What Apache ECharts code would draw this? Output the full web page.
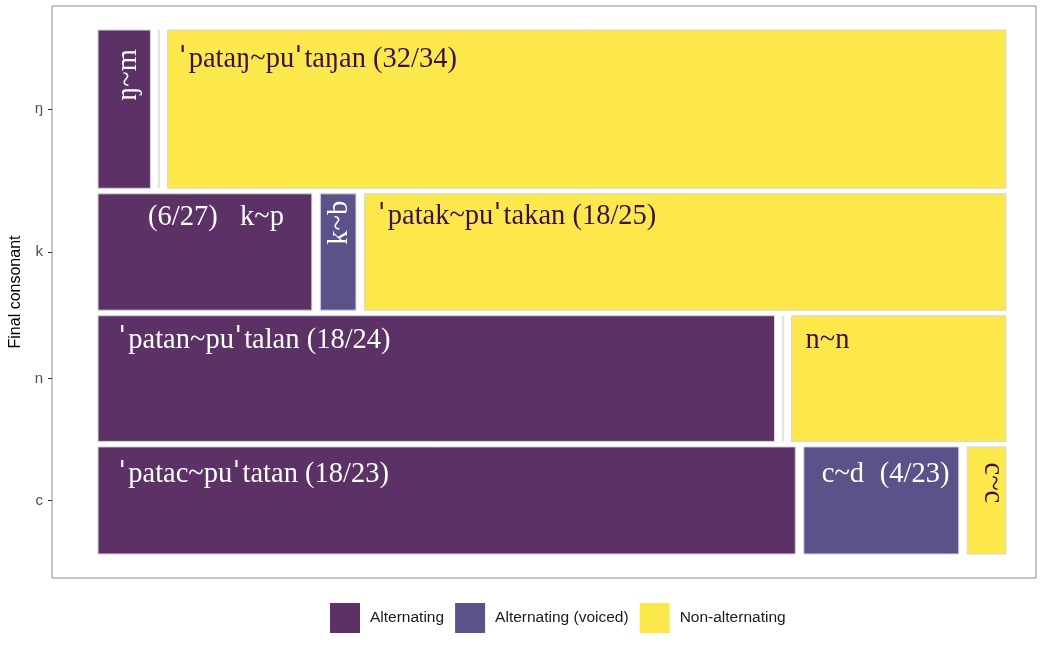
<!DOCTYPE html>
<html>
<head>
<meta charset="utf-8">
<script src="https://cdn.jsdelivr.net/npm/echarts@6/dist/echarts.min.js"></script>
<style>
  html, body { margin: 0; padding: 0; background: #fff; }
  #main { width: 1042px; height: 649px; }
</style>
</head>
<body>
<div id="main"></div>
<script>
// rows of the mosaic, top to bottom
var rows = ['ŋ', 'k', 'n', 'c'];
var alternating = [2, 6, 20.5, 18];
var alternatingVoiced = [0, 1, 0, 4];
var nonAlternating = [32, 18, 6.5, 1];
var seriesNames = ['Alternating', 'Alternating (voiced)', 'Non-alternating'];
var colors = ['#5c3165', '#5c5289', '#fde84b'];

// annotations: [row, segment, text]
var notes = [
  [0, 0, 'ŋ~m'],
  [0, 2, 'ˈpataŋ~puˈtaŋan (32/34)'],
  [1, 0, '(6/27)'],
  [1, 0, 'k~p'],
  [1, 1, 'k~b'],
  [1, 2, 'ˈpatak~puˈtakan (18/25)'],
  [2, 0, 'ˈpatan~puˈtalan (18/24)'],
  [2, 2, 'n~n'],
  [3, 0, 'ˈpatac~puˈtatan (18/23)'],
  [3, 1, 'c~d'],
  [3, 1, '(4/23)'],
  [3, 2, 'c~c']
];
// placement of each note (px from the cell's top-left), same order as notes
var notePos = [
  { dx: 31, dy: 45, rot: 90, align: 'center' },
  { dx: 11, dy: 30 },
  { dx: 50, dy: 24 },
  { dx: 142, dy: 24 },
  { dx: 19, dy: 29, rot: 90, align: 'center' },
  { dx: 13, dy: 23 },
  { dx: 20, dy: 25 },
  { dx: 14, dy: 25 },
  { dx: 20, dy: 28 },
  { dx: 18, dy: 28 },
  { dx: 76, dy: 28 },
  { dx: 25, dy: 36, rot: -90, align: 'center' }
];

var counts = [alternating, alternatingVoiced, nonAlternating];
var gapX = 8.5 / 908, gapY = 5.5 / 524;

// mosaic layout in 0..1 data units
var totals = rows.map(function (r, i) {
  return alternating[i] + alternatingVoiced[i] + nonAlternating[i];
});
var grand = totals.reduce(function (a, b) { return a + b; }, 0);
var cells = [[], [], []];
var rowCenters = [];
var y = 0;
rows.forEach(function (r, i) {
  var h = totals[i] / grand * (1 - gapY * (rows.length - 1));
  var x = 0;
  for (var s = 0; s < 3; s++) {
    var w = counts[s][i] / totals[i] * (1 - gapX * 2);
    cells[s][i] = [x, x + w, y, y + h];
    x += w + gapX;
  }
  rowCenters.push(y + h / 2);
  y += h + gapY;
});

var myChart = echarts.init(document.getElementById('main'));

function rectOf(api, c) {
  var p0 = api.coord([c[0], c[2]]);
  var p1 = api.coord([c[1], c[3]]);
  return {
    x: Math.min(p0[0], p1[0]),
    y: Math.min(p0[1], p1[1]),
    width: Math.abs(p1[0] - p0[0]),
    height: Math.abs(p1[1] - p0[1])
  };
}

var series = seriesNames.map(function (name, s) {
  return {
    name: name,
    type: 'custom',
    itemStyle: { color: colors[s] },
    encode: { x: [0, 1], y: [2, 3] },
    data: cells[s],
    renderItem: function (params, api) {
      var c = cells[s][params.dataIndex];
      var r = rectOf(api, c);
      var empty = r.width < 0.5;
      return {
        type: 'rect',
        shape: r,
        style: empty
          ? { fill: 'none', stroke: '#e3e3e3', lineWidth: 2.5 }
          : { fill: colors[s], stroke: '#d6d6d6', lineWidth: 1 }
      };
    }
  };
});

var serif = '"Liberation Serif", "DejaVu Serif", serif';

series.push({
  name: 'notes',
  type: 'custom',
  silent: true,
  z: 10,
  data: notes.map(function (n, i) { return [i]; }),
  renderItem: function (params, api) {
    var n = notes[params.dataIndex];
    var p = notePos[params.dataIndex];
    var r = rectOf(api, cells[n[1]][n[0]]);
    var fill = n[1] === 2 ? '#3d0f4d' : '#ffffff';
    return {
      type: 'text',
      x: r.x + p.dx,
      y: r.y + p.dy,
      rotation: (p.rot || 0) * Math.PI / 180,
      style: {
        // stress marks get a font with a tall glyph
        text: n[2].replace(/ˈ/g, '{s|ˈ}'),
        fill: fill,
        fontSize: 28.5,
        fontFamily: serif,
        align: p.align || 'left',
        verticalAlign: 'middle',
        rich: {
          s: { fontFamily: '"DejaVu Serif", serif', fontSize: 30, fill: fill, padding: [0, 2, 0, 0] }
        }
      }
    };
  }
});

myChart.setOption({
  animation: false,
  grid: {
    left: 52, right: 6, top: 6, bottom: 71,
    outerBoundsMode: 'none',
    containLabel: false,
    show: true, borderColor: '#8c8c8c', borderWidth: 1, backgroundColor: '#fff'
  },
  legend: {
    data: seriesNames,
    left: 325,
    top: 598,
    icon: 'rect',
    itemWidth: 30,
    itemHeight: 30,
    itemGap: 11,
    textStyle: {
      fontFamily: '"Liberation Sans", Arial, sans-serif',
      fontSize: 15.5,
      color: '#1a1a1a',
      padding: [0, 0, 0, 5]
    }
  },
  xAxis: {
    type: 'value',
    min: -46 / 908,
    max: 1 + 30 / 908,
    show: false
  },
  yAxis: {
    type: 'value',
    inverse: true,
    min: -24 / 524,
    max: 1 + 24 / 524,
    name: 'Final consonant',
    nameLocation: 'middle',
    nameGap: 22,
    nameRotate: 90,
    nameTextStyle: {
      fontFamily: '"Liberation Sans", Arial, sans-serif',
      fontSize: 16,
      color: '#000'
    },
    axisLine: { show: false, onZero: false },
    splitLine: { show: false },
    axisTick: {
      show: true,
      length: 4,
      customValues: rowCenters,
      lineStyle: { color: '#333' }
    },
    axisLabel: {
      customValues: rowCenters,
      margin: 9,
      fontFamily: '"Liberation Sans", Arial, sans-serif',
      fontSize: 15,
      color: '#4d4d4d',
      formatter: function (v) {
        var best = 0;
        rowCenters.forEach(function (c, i) {
          if (Math.abs(c - v) < Math.abs(rowCenters[best] - v)) best = i;
        });
        return rows[best];
      }
    }
  },
  series: series
});

window.onresize = function () {
  myChart.resize();
};
</script>
</body>
</html>
